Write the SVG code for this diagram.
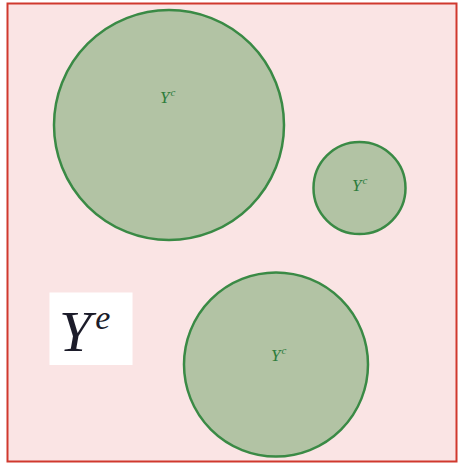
<svg xmlns="http://www.w3.org/2000/svg" width="459" height="464" viewBox="0 0 459 464">
  <style>
    .frame { fill: #fae4e4; stroke: #d0392e; stroke-width: 2; }
    .set { fill: #b2c3a4; stroke: #3a8a45; stroke-width: 2.5; }
    .lbl { font-family: "Liberation Serif", "DejaVu Serif", serif; font-style: italic; font-size: 17px; fill: #2e7d3c; }
    .sup { font-size: 11px; }
    .big { font-family: "Liberation Serif", "DejaVu Serif", serif; font-style: italic; fill: #1c1c2a; }
  </style>
  <rect class="frame" x="7.5" y="3.5" width="449" height="458"/>
  <g id="circle-large">
    <circle class="set" cx="169" cy="125" r="115"/>
    <text class="lbl" x="160" y="103">Y<tspan class="sup" dx="1" dy="-7">c</tspan></text>
  </g>
  <g id="circle-small">
    <circle class="set" cx="359.5" cy="188" r="46"/>
    <text class="lbl" x="352" y="191">Y<tspan class="sup" dx="1" dy="-7">c</tspan></text>
  </g>
  <g id="circle-bottom">
    <circle class="set" cx="276" cy="364.5" r="92"/>
    <text class="lbl" x="271" y="361">Y<tspan class="sup" dx="1" dy="-7">c</tspan></text>
  </g>
  <g id="label-Ye">
    <rect x="49.5" y="292.5" width="83" height="72.5" fill="#ffffff"/>
    <text class="big" x="59" y="351" font-size="58">Y<tspan font-size="34" dx="4" dy="-22">e</tspan></text>
  </g>
  <g id="connectors"/>
</svg>
